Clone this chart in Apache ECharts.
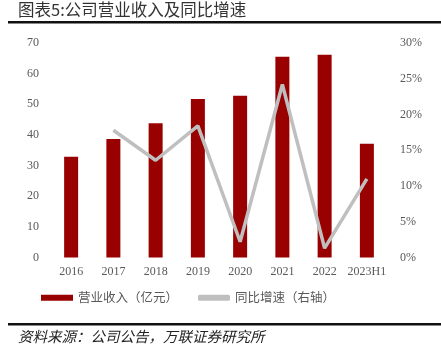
<!DOCTYPE html>
<html>
<head>
<meta charset="utf-8">
<script src="https://cdn.jsdelivr.net/npm/echarts@6/dist/echarts.min.js"></script>
<style>
html,body{margin:0;padding:0;background:#fff;}
#chart{width:441px;height:354px;}
</style>
</head>
<body>
<div id="chart"></div>
<script>
// 营业收入及同比增速
var years = ['2016','2017','2018','2019','2020','2021','2022','2023H1'];
var revenue = [32.9, 38.7, 43.8, 51.7, 52.8, 65.5, 66.2, 37.1];
var growth = [null, 17.8, 13.6, 18.4, 2.2, 24.2, 1.3, 11.0];
var leftTicks = [0, 10, 20, 30, 40, 50, 60, 70];
var rightTicks = [0, 5, 10, 15, 20, 25, 30];

var serif = '"Liberation Serif","Noto Sans CJK SC",serif';
var cjk = '"Noto Sans CJK SC",sans-serif';

var option = {
    backgroundColor: '#fff',
    animation: false,
    grid: {left: 50, right: 53, top: 43, bottom: 96.5},
    legend: {
        bottom: 45,
        left: 36,
        itemWidth: 32,
        itemHeight: 6,
        itemGap: 20,
        textStyle: {color: '#595959', fontSize: 12.5, fontFamily: cjk},
        data: [
            {name: '营业收入（亿元）', icon: 'rect'},
            {name: '同比增速（右轴）', icon: 'roundRect', itemStyle: {color: '#BFBFBF'}}
        ]
    },
    xAxis: {
        type: 'category',
        data: years,
        axisLine: {show: false},
        axisTick: {show: false},
        axisLabel: {color: '#595959', fontSize: 12, fontFamily: serif, margin: 8, interval: 0}
    },
    yAxis: [
        {
            type: 'value',
            min: 0, max: 70, interval: 10,
            splitLine: {show: false},
            axisLine: {show: false},
            axisTick: {show: false},
            axisLabel: {color: '#595959', fontSize: 12, fontFamily: serif, margin: 11}
        },
        {
            type: 'value',
            min: 0, max: 30, interval: 5,
            splitLine: {show: false},
            axisLine: {show: false},
            axisTick: {show: false},
            axisLabel: {color: '#595959', fontSize: 12, fontFamily: serif, margin: 12,
                formatter: function(v){ return v + '%'; }}
        }
    ],
    series: [
        {
            name: '营业收入（亿元）',
            type: 'bar',
            data: revenue,
            barWidth: 14,
            itemStyle: {color: '#990000'}
        },
        {
            name: '同比增速（右轴）',
            type: 'line',
            yAxisIndex: 1,
            data: growth,
            symbol: 'none',
            lineStyle: {color: '#BFBFBF', width: 3.5},
            itemStyle: {color: '#BFBFBF'}
        }
    ],
    graphic: [
        {type: 'text', left: 18, top: 1, style: {text: '图表5:公司营业收入及同比增速', fontSize: 16.5, fontFamily: cjk, fill: '#333'}},
        {type: 'rect', shape: {x: 8, y: 21, width: 433, height: 2.5}, style: {fill: '#111'}},
        {type: 'rect', shape: {x: 8, y: 323, width: 433, height: 2.5}, style: {fill: '#111'}},
        {type: 'text', left: 18, top: 329, style: {text: '资料来源：公司公告，万联证券研究所', fontSize: 14.5, fontStyle: 'italic', fontFamily: cjk, fill: '#222'}}
    ]
};

var myChart = echarts.init(document.getElementById('chart'));
myChart.setOption(option);
</script>
</body>
</html>
